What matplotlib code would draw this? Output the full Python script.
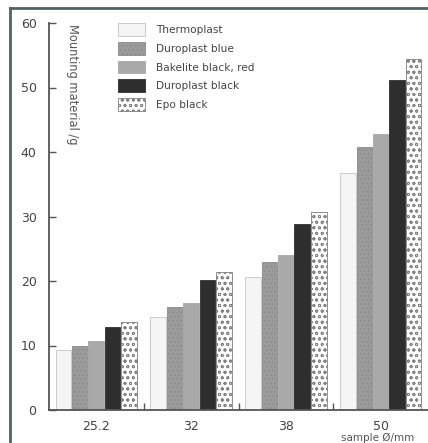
import matplotlib.pyplot as plt
import numpy as np
from matplotlib.lines import Line2D

plt.rcParams['font.family'] = ['DejaVu Sans']
plt.rcParams['hatch.linewidth'] = 0.6

diameters = ['25.2', '32', '38', '50']
series = ['Thermoplast', 'Duroplast blue', 'Bakelite black, red',
          'Duroplast black', 'Epo black']
thermoplast = [9.3, 14.4, 20.6, 36.8]
duro_blue = [10.0, 16.0, 22.9, 40.8]
bakelite = [10.7, 16.6, 24.0, 42.8]
duro_black = [12.9, 20.1, 28.8, 51.1]
epo_black = [13.6, 21.4, 30.7, 54.4]
values = [thermoplast, duro_blue, bakelite, duro_black, epo_black]

styles = [
    dict(facecolor='#f5f5f5', edgecolor='#c4c4c4', hatch=None),
    dict(facecolor='#9b9b9b', edgecolor='#8a8a8a', hatch='....'),
    dict(facecolor='#a9a9a9', edgecolor='#a9a9a9', hatch=None),
    dict(facecolor='#2e2e2e', edgecolor='#2e2e2e', hatch=None),
    dict(facecolor='#ffffff', edgecolor='#808080', hatch='ooo'),
]

fig = plt.figure(figsize=(4.28, 4.43), dpi=100)
ax = fig.add_axes([49/428, 33/443, 379/428, 387/443])

x = np.arange(len(diameters))
w = 0.165
step = 0.172
for i, (vals, st) in enumerate(zip(values, styles)):
    ax.bar(x + (i - 2) * step, vals, w, label=series[i],
           facecolor=st['facecolor'], edgecolor=st['edgecolor'],
           hatch=st['hatch'], linewidth=0.6)

ax.set_xlim(-0.495, 3.495)
ax.set_ylim(0, 60)
ax.set_yticks(range(0, 61, 10))
ax.set_xticks(x)
ax.set_xticklabels(diameters)
ax.set_xticks([0.5, 1.5, 2.5], minor=True)

for s in ['top', 'right']:
    ax.spines[s].set_visible(False)
for s in ['left', 'bottom']:
    ax.spines[s].set_color('#555555')
    ax.spines[s].set_linewidth(1.3)

ax.tick_params(axis='y', direction='in', length=5, width=1, color='#555555',
               labelsize=9, labelcolor='#444444', pad=9)
ax.tick_params(axis='x', which='major', length=0, labelsize=9,
               labelcolor='#444444', pad=7)
ax.tick_params(axis='x', which='minor', direction='in', length=5, width=1,
               color='#555555')

ax.text(0.061, 0.998, 'Mounting material /g', transform=ax.transAxes,
        rotation=270, ha='center', va='top', fontsize=8.3, color='#555555')
fig.text(341/428, 10/443, 'sample Ø/mm', ha='left', va='top',
         fontsize=7.5, color='#555555')

ax.legend(loc='upper left', bbox_to_anchor=(118/428, 1 - 23/443),
          bbox_transform=fig.transFigure, frameon=False, fontsize=7.6,
          handlelength=2.6, handleheight=1.5, labelspacing=0.56,
          handletextpad=1.0, borderpad=0, borderaxespad=0,
          labelcolor='#444444')

fig.add_artist(Line2D([10/428, 10/428], [0, 1 - 8/443],
                      transform=fig.transFigure, color='#4d6565', lw=2))
fig.add_artist(Line2D([10/428, 1], [1 - 8/443, 1 - 8/443],
                      transform=fig.transFigure, color='#4d6565', lw=2))

fig.savefig('out.png', dpi=100)
